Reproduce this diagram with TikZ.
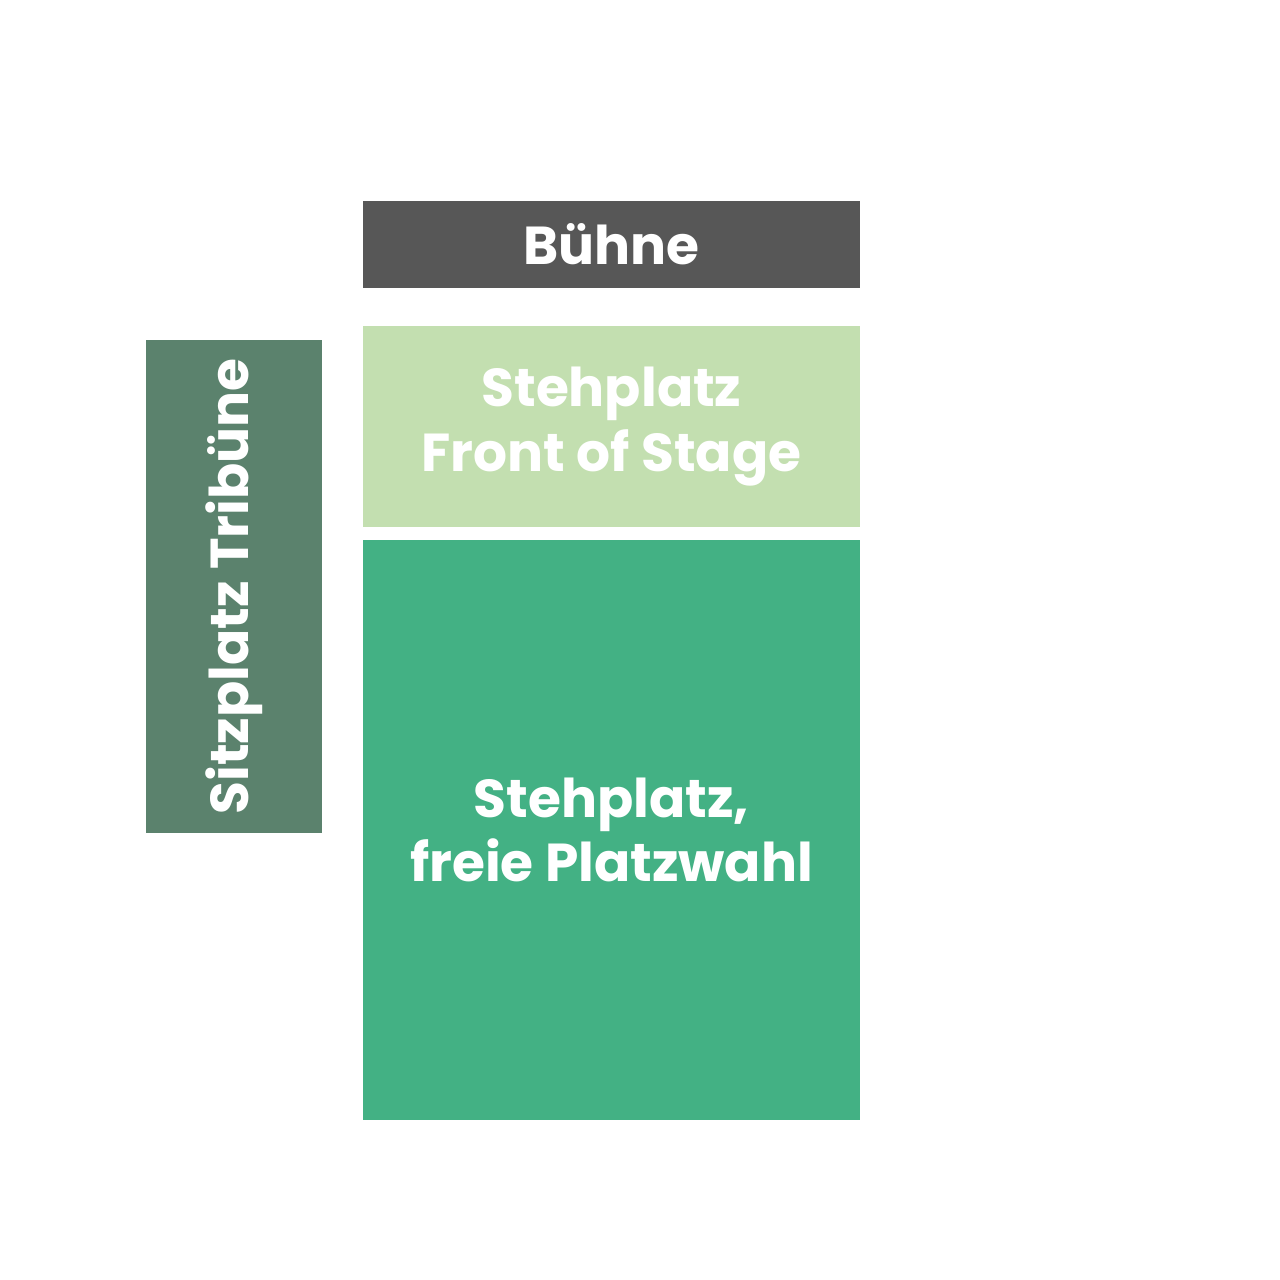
\documentclass[tikz,border=0pt]{standalone}
\usepackage{fontspec}
\setmainfont{Poppins}
\usetikzlibrary{positioning}

\definecolor{stageGray}{HTML}{575757}
\definecolor{frontGreen}{HTML}{C3DFB0}
\definecolor{floorGreen}{HTML}{43B184}
\definecolor{seatGreen}{HTML}{5B826D}

\begin{document}
\begin{tikzpicture}[
        areaBox/.style={
            inner sep=0pt,
            outer sep=0pt,
            minimum width=4.97cm,
            align=center,
            text=white,
            font=\fontsize{15.2}{18.3}\selectfont\bfseries
        }
    ]

        \useasboundingbox (0,0) rectangle (12.8,12.8);

        % Stage
        \node[
            areaBox,
            fill=stageGray,
            minimum height=0.87cm,
            anchor=north west
        ] (stage) at (3.63,10.79) {Bühne};

        % Standing areas
        \node[
            areaBox,
            fill=frontGreen,
            minimum height=2.01cm,
            below=0.38cm of stage
        ] (frontStage) {Stehplatz\\Front of Stage};

        \node[
            areaBox,
            fill=floorGreen,
            minimum height=5.80cm,
            below=0.13cm of frontStage
        ] (freeFloor) {Stehplatz,\\freie Platzwahl};

        % Seating
        \node[
            areaBox,
            fill=seatGreen,
            minimum width=4.93cm,
            minimum height=1.76cm,
            rotate=90
        ] (tribune) at (2.34,6.935) {\raisebox{0.03cm}{Sitzplatz Tribüne}};

    \end{tikzpicture}
\end{document}
